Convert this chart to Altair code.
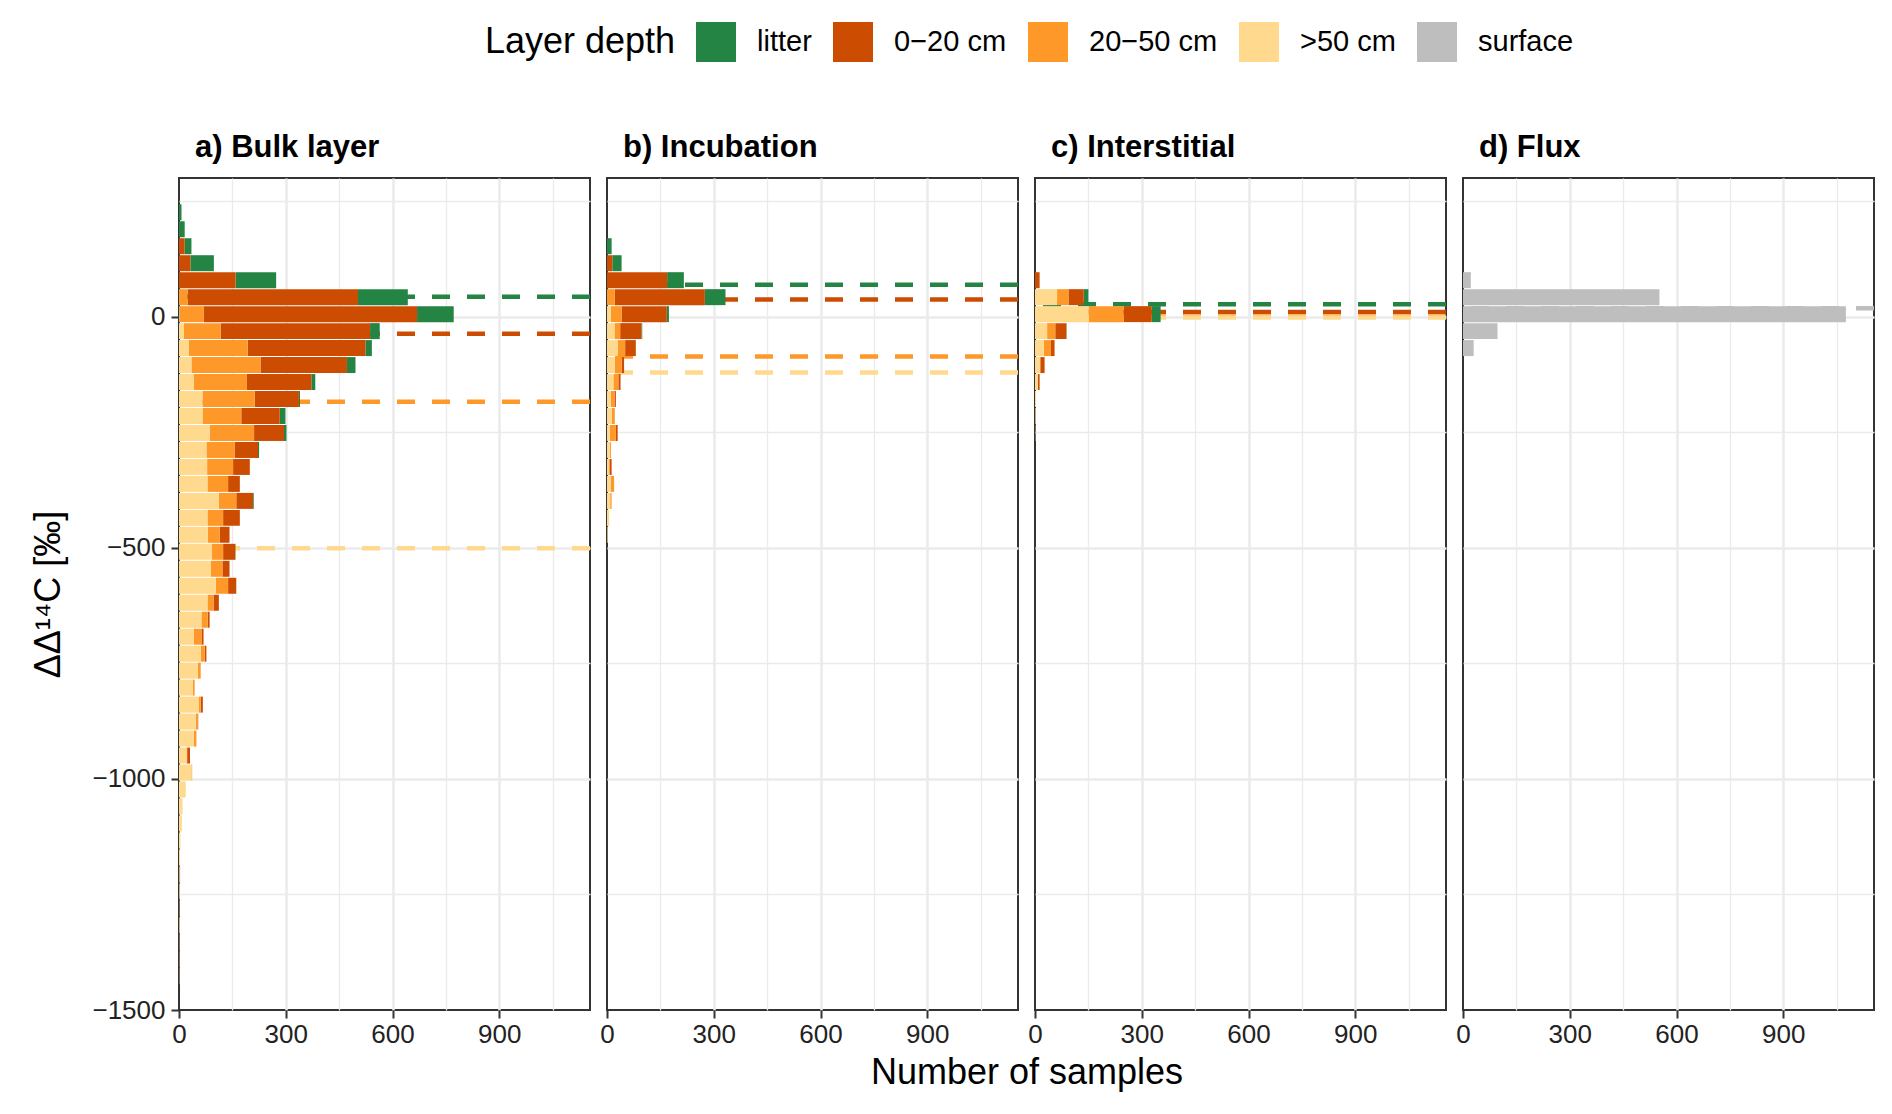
import altair as alt
import pandas as pd

# ---------------- data ----------------
DEPTHS = ["litter", "0−20 cm", "20−50 cm", ">50 cm", "surface"]
COLORS = ["#238443", "#cc4c02", "#fe9929", "#fed98e", "#bebebe"]
STACK_ORDER = {">50 cm": 0, "20−50 cm": 1, "0−20 cm": 2, "litter": 3, "surface": 4}
PANELS = ["a) Bulk layer", "b) Incubation", "c) Interstitial", "d) Flux"]

# histogram binning (per mil): upper edge of the first bin and bin width
BIN_TOP0 = 245.3
BIN_WIDTH = 36.73

# counts per bin, bin 0 = topmost bin
bulk_litter = [7, 16, 19, 66, 114, 140, 103, 27, 18, 24, 11, 3, 16, 7, 3, 0, 0, 2, 0, 0, 1]
bulk_0_20 = [0, 0, 16, 32, 159, 479, 599, 420, 331, 243, 181, 124, 108, 84, 66, 47, 33, 47, 47, 28,
             34, 20, 23, 15, 5, 6, 5, 0, 0, 6, 2, 0, 8, 0, 0, 0, 0, 0, 0, 1]
bulk_20_50 = [0, 0, 0, 0, 0, 24, 68, 103, 166, 194, 150, 147, 109, 125, 79, 73, 58, 49, 44, 33,
              32, 33, 35, 17, 18, 22, 11, 8, 5, 5, 5, 7, 2, 2]
bulk_gt50 = [0, 0, 0, 0, 0, 0, 2, 14, 27, 35, 41, 66, 66, 86, 77, 79, 80, 112, 80, 81,
             92, 89, 103, 80, 63, 41, 61, 53, 39, 56, 47, 42, 21, 35, 19, 10, 8, 4, 3, 2,
             2, 1, 2, 1, 1, 1]

inc_litter = [0, 0, 13, 26, 47, 58, 6, 2]
inc_0_20 = [0, 0, 0, 15, 169, 253, 127, 60, 30, 7, 6, 4, 1, 5, 0, 5]
inc_20_50 = [0, 0, 0, 0, 0, 22, 30, 16, 21, 19, 14, 10, 8, 17, 3, 4, 10, 4]
inc_gt50 = [0, 0, 0, 0, 0, 0, 11, 21, 30, 22, 18, 11, 13, 8, 8, 4, 10, 9, 6, 2]

int_litter = [0, 0, 0, 0, 0, 13, 25, 1]
int_0_20 = [0, 0, 0, 0, 13, 43, 79, 31, 10, 12, 5]
int_20_50 = [0, 0, 0, 0, 0, 32, 98, 23, 20, 2]
int_gt50 = [0, 0, 0, 0, 0, 62, 151, 34, 25, 13, 8, 3, 2, 1]

flux_surface = [0, 0, 0, 0, 22, 552, 1076, 97, 30]

# dashed reference lines (per mil)
bulk_lines = {"litter": 43, "0−20 cm": -37, "20−50 cm": -184, ">50 cm": -501}
inc_lines = {"litter": 69, "0−20 cm": 37, "20−50 cm": -86, ">50 cm": -121}
int_lines = {"litter": 27, "0−20 cm": 10, "20−50 cm": 0, ">50 cm": -2}
flux_lines = {"surface": 18}

panel_series = {
    PANELS[0]: {"litter": bulk_litter, "0−20 cm": bulk_0_20, "20−50 cm": bulk_20_50, ">50 cm": bulk_gt50},
    PANELS[1]: {"litter": inc_litter, "0−20 cm": inc_0_20, "20−50 cm": inc_20_50, ">50 cm": inc_gt50},
    PANELS[2]: {"litter": int_litter, "0−20 cm": int_0_20, "20−50 cm": int_20_50, ">50 cm": int_gt50},
    PANELS[3]: {"surface": flux_surface},
}
panel_lines = {PANELS[0]: bulk_lines, PANELS[1]: inc_lines, PANELS[2]: int_lines, PANELS[3]: flux_lines}

rows = []
for pname, series in panel_series.items():
    for depth, counts in series.items():
        for k, c in enumerate(counts):
            if c > 0:
                top = BIN_TOP0 - BIN_WIDTH * k
                rows.append({"panel": pname, "depth": depth, "y_lo": top - BIN_WIDTH,
                             "y_hi": top, "count": c, "ord": STACK_ORDER[depth]})
bars_df = pd.DataFrame(rows)

line_rows = []
for pname, d in panel_lines.items():
    for depth, v in d.items():
        line_rows.append({"panel": pname, "depth": depth, "med": v})
lines_df = pd.DataFrame(line_rows)

# ---------------- styling ----------------
FONT = "Liberation Sans"
W, H = 411, 832
XMAX = 1155
YMIN, YMAX = -1500, 300
GRID = "#ebebeb"

color_scale = alt.Scale(domain=DEPTHS, range=COLORS)
# same mapping for the dashed lines, listed in reverse so its legend stays separate
stroke_scale = alt.Scale(domain=DEPTHS[::-1], range=COLORS[::-1])

x_major = "datum.value % 300 === 0"
y_major = "datum.value % 500 === 0"


def x_axis(with_title=False):
    kw = dict(
        values=[0, 150, 300, 450, 600, 750, 900, 1050],
        format="d",
        labelExpr=f"{x_major} ? datum.label : ''",
        labelFlush=False,
        tickOpacity={"condition": {"test": x_major, "value": 1}, "value": 0},
        gridWidth={"condition": {"test": x_major, "value": 2.6}, "value": 1.3},
        gridOpacity={"condition": {"test": "datum.value === 0", "value": 0}, "value": 1},
        gridColor=GRID,
        domain=False,
        tickColor="#333333", tickWidth=2, tickSize=8,
        labelFontSize=26, labelColor="#222222", labelPadding=3, labelFont=FONT,
    )
    if with_title:
        kw.update(title="Number of samples", titleX=W + 8.5, titleAlign="center",
                  titleFontSize=36, titleFontWeight="normal", titleFont=FONT,
                  titleColor="black", titlePadding=8)
    else:
        kw.update(title=None)
    return alt.Axis(**kw)


def y_axis(first):
    kw = dict(
        values=[250, 0, -250, -500, -750, -1000, -1250, -1500],
        gridWidth={"condition": {"test": y_major, "value": 2.6}, "value": 1.3},
        gridOpacity={"condition": {"test": "datum.value === -1500", "value": 0}, "value": 1},
        gridColor=GRID,
        domain=False,
    )
    if first:
        kw.update(
            format="d",
            labelExpr=f"{y_major} ? datum.label : ''",
            labelFlush=False,
            tickOpacity={"condition": {"test": y_major, "value": 1}, "value": 0},
            tickColor="#333333", tickWidth=2, tickSize=8,
            labelFontSize=26, labelColor="#222222", labelPadding=6, labelFont=FONT,
            title="ΔΔ¹⁴C [‰]", titleFontSize=36, titleFontWeight="normal",
            titleFont=FONT, titleColor="black", titlePadding=24,
        )
    else:
        kw.update(labels=False, ticks=False, title=None)
    return alt.Axis(**kw)


legend = alt.Legend(
    orient="none", legendX=306, legendY=-156, direction="horizontal",
    title="Layer depth", titleOrient="left", titleFontSize=36, titleFontWeight="normal",
    titleFont=FONT, titleColor="black", titlePadding=20, titleBaseline="middle",
    titleLimit=0, labelLimit=0,
    labelFontSize=29, labelFont=FONT, labelColor="black", labelOffset=21,
    symbolType="square", symbolSize=1600, symbolStrokeWidth=0, symbolOpacity=1,
    columnPadding=21, columns=5,
)


def panel(i):
    pname = PANELS[i]
    xs = alt.Scale(domain=[0, XMAX], nice=False, zero=True)
    ys = alt.Scale(domain=[YMIN, YMAX], nice=False, zero=False)
    rules = alt.Chart(lines_df[lines_df.panel == pname]).mark_rule(
        strokeDash=[18, 17], strokeWidth=4.5
    ).encode(
        y=alt.Y("med:Q", scale=ys, axis=y_axis(i == 0)),
        stroke=alt.Stroke("depth:N", scale=stroke_scale, legend=None),
    )
    bars = alt.Chart(bars_df[bars_df.panel == pname]).mark_bar(opacity=1).encode(
        x=alt.X("sum(count):Q", stack="zero", scale=xs, axis=x_axis(with_title=(i == 1))),
        y=alt.Y("y_lo:Q", bin="binned", scale=ys, axis=y_axis(i == 0)),
        y2="y_hi:Q",
        color=alt.Color("depth:N", scale=color_scale, legend=legend),
        order=alt.Order("ord:Q", sort="ascending"),
    )
    return alt.layer(rules, bars).properties(
        width=W, height=H,
        title=alt.TitleParams(text=pname, anchor="start", frame="group", fontSize=31,
                              fontWeight="bold", font=FONT, color="black", offset=14, dx=16),
    )


chart = alt.hconcat(*[panel(i) for i in range(4)], spacing=17, bounds="flush").properties(
    padding={"left": 21, "top": 14, "right": 5, "bottom": 5}
).configure(
    font=FONT
).configure_view(
    stroke="#333333", strokeWidth=2
)

chart.save("out.html", embed_options={"renderer": "svg", "actions": False})
